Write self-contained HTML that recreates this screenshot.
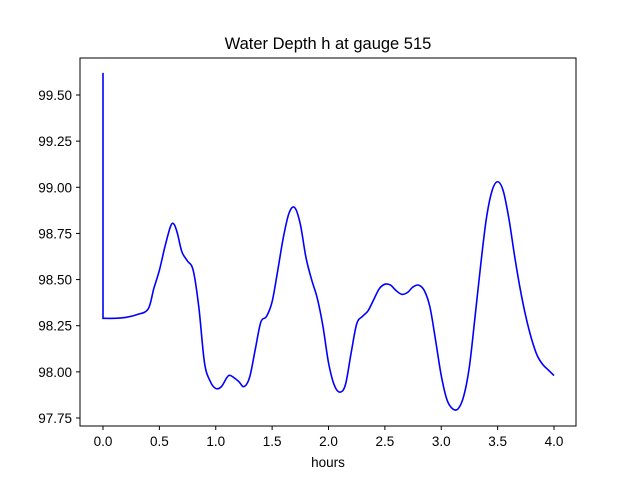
<!DOCTYPE html>
<html><head><meta charset="utf-8"><style>
body{margin:0;background:#fff;}
text{font-family:"Liberation Sans","DejaVu Sans",sans-serif;fill:#000;}
</style></head><body>
<svg id="chart" width="640" height="480" xmlns="http://www.w3.org/2000/svg">
<rect width="640" height="480" fill="#fff"/>
<text x="328" y="49" font-size="16.5" text-anchor="middle">Water Depth h at gauge 515</text>
<g id="ticks"></g>
<path id="line" fill="none" stroke="#0000ff" stroke-width="1.6"/>
<rect x="80" y="58" width="496" height="368" fill="none" stroke="#000" stroke-width="1"/>
<text x="328" y="467" font-size="13.5" text-anchor="middle">hours</text>
</svg>
<script>
const times=[0,0,0.1,0.2,0.3,0.4,0.45,0.5,0.55,0.6,0.63,0.66,0.7,0.75,0.8,0.85,0.9,0.95,1.0,1.05,1.1,1.13,1.2,1.25,1.3,1.35,1.4,1.45,1.5,1.55,1.6,1.65,1.7,1.75,1.8,1.85,1.9,1.95,2.0,2.05,2.1,2.15,2.2,2.25,2.3,2.35,2.4,2.45,2.5,2.55,2.6,2.65,2.7,2.75,2.8,2.85,2.9,2.95,3.0,3.05,3.1,3.15,3.2,3.25,3.3,3.35,3.4,3.45,3.5,3.55,3.6,3.65,3.7,3.75,3.8,3.85,3.9,3.95,4.0];
const depths=[99.62,98.29,98.29,98.295,98.31,98.34,98.45,98.55,98.68,98.79,98.80,98.75,98.65,98.60,98.55,98.35,98.05,97.95,97.91,97.92,97.97,97.98,97.95,97.92,97.97,98.12,98.27,98.30,98.38,98.55,98.73,98.86,98.89,98.80,98.62,98.50,98.40,98.25,98.05,97.93,97.89,97.93,98.10,98.26,98.30,98.33,98.39,98.45,98.475,98.47,98.44,98.42,98.43,98.46,98.47,98.44,98.35,98.17,97.98,97.85,97.80,97.80,97.87,98.03,98.30,98.58,98.83,98.98,99.03,98.98,98.83,98.63,98.45,98.30,98.18,98.09,98.04,98.01,97.98];
const xTicks=[0,0.5,1,1.5,2,2.5,3,3.5,4];
const xTickLabels=["0.0","0.5","1.0","1.5","2.0","2.5","3.0","3.5","4.0"];
const yTicks=[97.75,98,98.25,98.5,98.75,99,99.25,99.5];
const yTickLabels=["97.75","98.00","98.25","98.50","98.75","99.00","99.25","99.50"];
const xs=v=>103+(v-0)*(554-103)/4;
const ys=v=>418-(v-97.75)*(418-95)/1.75;
const ns="http://www.w3.org/2000/svg";
const g=document.getElementById('ticks');
xTicks.forEach((t,i)=>{
 const l=document.createElementNS(ns,'line');
 
 
 l.setAttribute('x1',xs(t));l.setAttribute('x2',xs(t));l.setAttribute('y1',426);l.setAttribute('y2',430);l.setAttribute('stroke','#000');
 g.appendChild(l);
 const tx=document.createElementNS(ns,'text');
 
 
 tx.setAttribute('x',xs(t));tx.setAttribute('y',446);tx.setAttribute('font-size','13.5');tx.setAttribute('text-anchor','middle');
 tx.textContent=xTickLabels[i];g.appendChild(tx);
});
yTicks.forEach((t,i)=>{
 const l=document.createElementNS(ns,'line');
 
 
 l.setAttribute('x1',76);l.setAttribute('x2',80);l.setAttribute('y1',ys(t));l.setAttribute('y2',ys(t));l.setAttribute('stroke','#000');
 g.appendChild(l);
 const tx=document.createElementNS(ns,'text');
 
 
 tx.setAttribute('x',72);tx.setAttribute('y',ys(t)+5);tx.setAttribute('font-size','13.5');tx.setAttribute('text-anchor','end');
 tx.textContent=yTickLabels[i];g.appendChild(tx);
});
const pts=times.map((t,i)=>[xs(t),ys(depths[i])]);
let d='M'+pts[0][0]+','+pts[0][1]+' L'+pts[1][0]+','+pts[1][1];
for(let i=1;i<pts.length-1;i++){
 const p0=pts[Math.max(i-1,1)],p1=pts[i],p2=pts[i+1],p3=pts[Math.min(i+2,pts.length-1)];
 const c1=[p1[0]+(p2[0]-p0[0])/6,p1[1]+(p2[1]-p0[1])/6];
 const c2=[p2[0]-(p3[0]-p1[0])/6,p2[1]-(p3[1]-p1[1])/6];
 d+=' C'+c1[0]+','+c1[1]+' '+c2[0]+','+c2[1]+' '+p2[0]+','+p2[1];
}
document.getElementById('line').setAttribute('d',d);
</script>
</body></html>
